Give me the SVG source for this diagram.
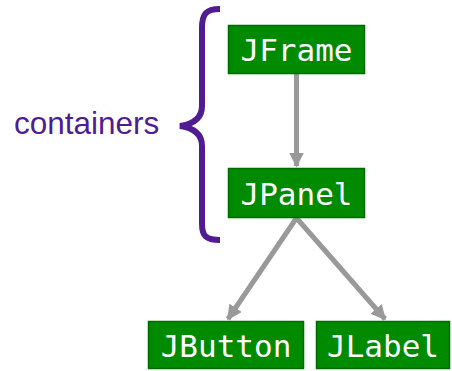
<svg xmlns="http://www.w3.org/2000/svg" width="452" height="371" viewBox="0 0 452 371">
  <style>
    .box { fill: #008a00; stroke: #006a00; stroke-width: 1.5; }
    .lbl { font-family: "DejaVu Sans Mono", monospace; font-size: 31px; fill: #ffffff; text-anchor: middle; }
    .edge { stroke: #999999; stroke-width: 5; fill: none; }
  </style>
  <defs>
    <marker id="arrow" viewBox="0 0 10 10" refX="9" refY="5" markerWidth="3" markerHeight="3" orient="auto" markerUnits="strokeWidth">
      <path d="M0,0 L10,5 L0,10 z" fill="#999999"/>
    </marker>
  </defs>
  <rect width="452" height="371" fill="#ffffff"/>

  <g id="connectors">
    <line class="edge" x1="296.5" y1="74" x2="296.5" y2="166" marker-end="url(#arrow)"/>
    <line class="edge" x1="296.5" y1="218" x2="228" y2="319" marker-end="url(#arrow)"/>
    <line class="edge" x1="296.5" y1="218" x2="385" y2="319" marker-end="url(#arrow)"/>
  </g>

  <g id="brace">
    <path d="M220,9 C206,9 202,14 202,28 L202,106 C202,118 194,124 180,126 C194,128 202,134 202,146 L202,224 C202,236 206,240 220,240" fill="none" stroke="#4f1d91" stroke-width="6" stroke-linecap="butt"/>
    <text x="14" y="134" font-family="Liberation Sans, Arial, sans-serif" font-size="31.5" fill="#4f1d91">containers</text>
  </g>

  <g id="jframe">
    <rect class="box" x="228.5" y="25.5" width="136" height="48"/>
    <text class="lbl" x="296.5" y="61">JFrame</text>
  </g>
  <g id="jpanel">
    <rect class="box" x="228.5" y="168.5" width="136" height="49"/>
    <text class="lbl" x="296.5" y="204.5">JPanel</text>
  </g>
  <g id="jbutton">
    <rect class="box" x="148.5" y="321.5" width="155" height="47"/>
    <text class="lbl" x="226" y="356.5">JButton</text>
  </g>
  <g id="jlabel">
    <rect class="box" x="316.5" y="321.5" width="133" height="47"/>
    <text class="lbl" x="383" y="356.5">JLabel</text>
  </g>
</svg>
